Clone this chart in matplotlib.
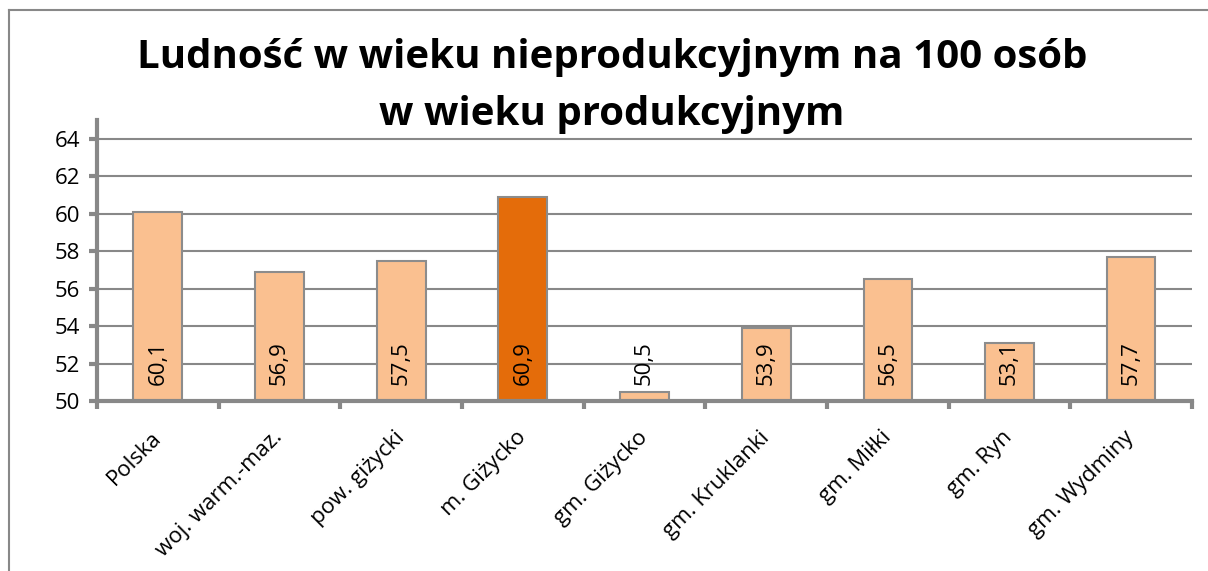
import matplotlib.pyplot as plt
from matplotlib.lines import Line2D

categories = ["Polska", "woj. warm.-maz.", "pow. giżycki", "m. Giżycko", "gm. Giżycko",
              "gm. Kruklanki", "gm. Miłki", "gm. Ryn", "gm. Wydminy"]
values = [60.1, 56.9, 57.5, 60.9, 50.5, 53.9, 56.5, 53.1, 57.7]
highlight = "m. Giżycko"
y_ticks = [50, 52, 54, 56, 58, 60, 62, 64]

plt.rcParams['font.family'] = ['Open Sans', 'DejaVu Sans']

light = "#FAC090"
dark = "#E46C0A"
grey = "#888888"

fig = plt.figure(figsize=(12.08, 5.71), dpi=100)
ax = fig.add_axes([97 / 1208, 1 - 401 / 571, (1192 - 97) / 1208, (401 - 120) / 571])

x = list(range(len(categories)))
colors = [dark if c == highlight else light for c in categories]
ax.bar(x, values, width=0.4, bottom=0, color=colors, edgecolor="#8C8C8C",
       linewidth=1.5, zorder=3)

for xi, v in zip(x, values):
    ax.text(xi, 50.85, f"{v:.1f}".replace(".", ","), rotation=90, ha="center",
            va="bottom", fontsize=16, color="black", zorder=4)

ax.set_xlim(-0.5, len(categories) - 0.5)
ax.set_ylim(50, 65)
ax.set_yticks(y_ticks)
ax.set_yticklabels([str(t) for t in y_ticks], fontsize=16)
ax.yaxis.grid(True, color=grey, linewidth=1.5, zorder=0)
ax.set_axisbelow(True)

ax.set_xticks(x)
ax.set_xticklabels(categories, rotation=45, ha="right", va="center",
                   rotation_mode="anchor", fontsize=16)
ax.tick_params(axis="x", which="major", length=0, pad=24)
ax.set_xticks([i - 0.5 for i in range(len(categories) + 1)], minor=True)
ax.tick_params(axis="x", which="minor", length=6, width=3, color=grey, direction="out")
ax.tick_params(axis="y", length=6, width=3, color=grey, direction="out", pad=6)

for s in ["top", "right"]:
    ax.spines[s].set_visible(False)
for s in ["left", "bottom"]:
    ax.spines[s].set_color(grey)
    ax.spines[s].set_linewidth(3)
    ax.spines[s].set_zorder(5)

fig.text(612 / 1208, 1 - 86 / 571,
         "Ludność w wieku nieprodukcyjnym na 100 osób\nw wieku produkcyjnym",
         ha="center", va="center", fontsize=29, fontweight="bold", linespacing=1.6)

# outer chart frame
fig.add_artist(Line2D([9 / 1208, 9 / 1208], [0, 1 - 10 / 571], color=grey,
                      linewidth=1.5, transform=fig.transFigure))
fig.add_artist(Line2D([9 / 1208, 1], [1 - 10 / 571, 1 - 10 / 571], color=grey,
                      linewidth=1.5, transform=fig.transFigure))

fig.savefig("out.png", dpi=100)
